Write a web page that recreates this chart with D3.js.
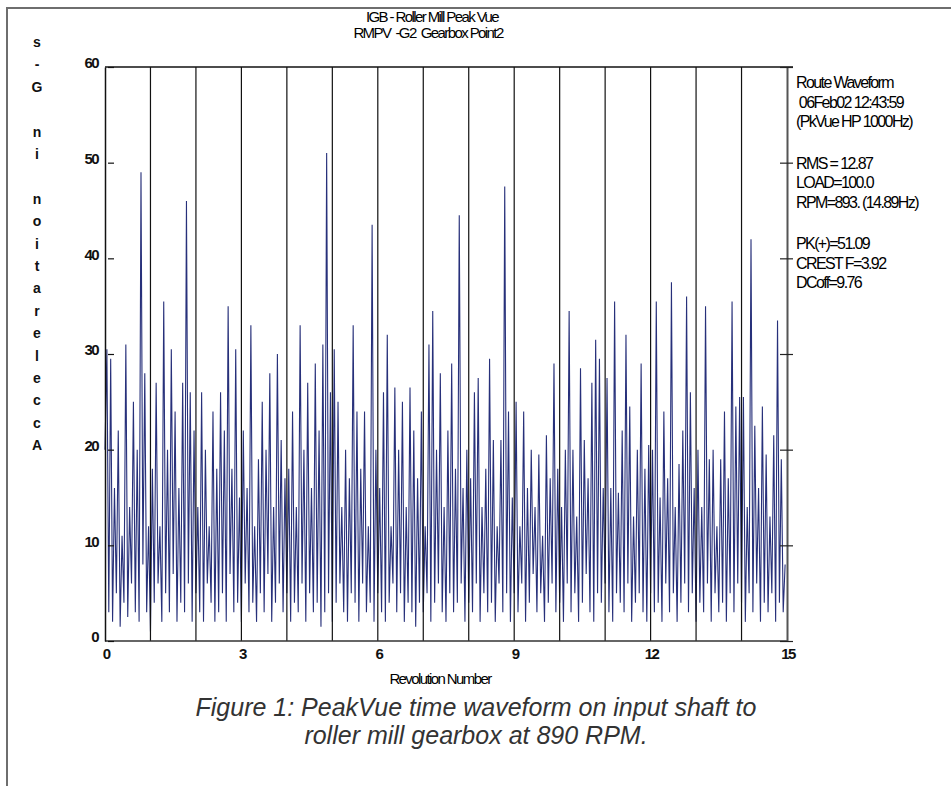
<!DOCTYPE html>
<html>
<head>
<meta charset="utf-8">
<script src="https://cdn.jsdelivr.net/npm/d3@7"></script>
<style>
  body { margin: 0; background: #fff; }
  text { font-family: 'Liberation Sans', Arial, sans-serif; }
</style>
</head>
<body>
<div id="app"></div>
<script>
// PeakVue waveform, 24 samples per revolution (one row per revolution)
const samplesPerRev = 24
const accelG = [
  20, 30.5, 3, 29.5, 2, 16, 5, 22, 1.5, 11, 4, 31, 2.5, 14, 6, 25, 3, 20, 2, 49, 8, 28, 3, 12,
  1, 18, 4, 27, 6, 12, 2, 35.5, 5, 20, 3, 30.5, 7, 24, 2, 16, 4, 27, 3, 46, 6, 26, 2, 22,
  5, 14, 3, 26, 2, 20, 6, 12, 4, 24, 2, 18, 3, 26, 5, 22, 2, 35, 7, 18, 3, 30.5, 4, 15,
  2, 22, 6, 16, 3, 33, 4, 12, 2, 19, 5, 25, 3, 20, 7, 28, 2, 14, 4, 30, 6, 21, 3, 17,
  5, 18, 2, 24, 4, 14, 3, 33, 6, 20, 2, 27, 5, 16, 3, 29, 4, 22, 1.5, 31, 3, 51, 5, 26,
  2, 30.5, 4, 25, 6, 14, 3, 20, 2, 17, 5, 33, 4, 24, 2, 18, 6, 24, 3, 12, 4, 43.5, 2, 20,
  5, 16, 3, 26, 2, 32, 4, 12, 6, 26.5, 3, 20, 5, 25, 2, 14, 4, 26.5, 3, 22, 1.5, 17, 4, 24,
  3, 12, 5, 31, 2, 34.5, 4, 20, 6, 28, 3, 14, 2, 22, 5, 29, 3, 18, 4, 44.5, 6, 16, 2, 20,
  4, 17, 3, 26, 6, 27.5, 2, 14, 5, 18, 3, 29.5, 4, 21, 2, 12, 6, 21, 3, 47.5, 5, 24, 2, 15,
  5, 25, 3, 12, 6, 24, 2, 16, 4, 20, 7, 14, 3, 19.5, 5, 11, 2, 21.5, 4, 17, 6, 29, 3, 18,
  4, 14, 2, 20, 6, 34.5, 3, 20, 5, 13, 2, 28.5, 4, 21, 7, 17, 3, 27, 2, 31.5, 5, 29.5, 4, 16,
  6, 27.5, 3, 16, 2, 35.5, 5, 15.5, 4, 22, 3, 32, 6, 24.5, 2, 13, 4, 20, 5, 29, 3, 18, 2, 20.5,
  5, 20, 3, 35.5, 4, 15, 2, 24, 6, 17, 3, 37.5, 5, 14, 2, 18.5, 4, 22, 6, 36, 3, 26, 5, 16,
  2, 20, 4, 14, 3, 35, 6, 19, 2, 20, 5, 12, 3, 19, 4, 24, 2, 17, 5, 35.5, 3, 24.5, 6, 25.5,
  4, 25.5, 2, 14, 5, 42, 3, 22.5, 6, 16, 2, 24.5, 4, 19.5, 3, 13, 5, 21.5, 2, 33.5, 4, 19, 3, 8
]

const revMarks = [1, 2, 3, 4, 5, 6, 7, 8, 9, 10, 11, 12, 13, 14]
const xTicks = [0, 3, 6, 9, 12, 15]
const yTicks = [0, 10, 20, 30, 40, 50, 60]

const titleLines = ['IGB - Roller Mill Peak Vue', 'RMPV  -G2  Gearbox Point2']
const yLabel = 'Acceleration in G-s'
const xLabel = 'Revolution Number'
const infoLines = [
  ['Route Waveform', 0], [' 06Feb02 12:43:59', 0], ['(PkVue HP 1000Hz)', 0],
  ['RMS = 12.87', 1], ['LOAD=100.0', 1], ['RPM=893. (14.89Hz)', 1],
  ['PK(+)=51.09', 2], ['CREST F=3.92', 2], ['DCoff=9.76', 2]
]
const caption = ['Figure 1: PeakVue time waveform on input shaft to', 'roller mill gearbox at 890 RPM.']

const width = 951
const height = 786
const m = { left: 105, right: 787, top: 67, bottom: 641 }

const svg = d3.select('#app')
  .append('svg')
  .attr('width', width)
  .attr('height', height)

// outer frame (top and left edges visible)
svg.append('path')
  .attr('d', `M7,786 V8 H951`)
  .attr('fill', 'none')
  .attr('stroke', '#6e6e6e')
  .attr('stroke-width', 2)

const x = d3.scaleLinear().domain([0, 15]).range([m.left, m.right])
const y = d3.scaleLinear().domain([0, 60]).range([m.bottom, m.top])

// waveform
const line = d3.line()
  .x((d, i) => x(i / samplesPerRev))
  .y(d => y(d))

svg.append('path')
  .datum(accelG)
  .attr('d', line)
  .attr('fill', 'none')
  .attr('stroke', '#27307a')
  .attr('stroke-width', 1.1)

// revolution marker lines
svg.append('g')
  .selectAll('line')
  .data(revMarks)
  .join('line')
  .attr('x1', d => x(d))
  .attr('x2', d => x(d))
  .attr('y1', m.top)
  .attr('y2', m.bottom)
  .attr('stroke', '#111')
  .attr('stroke-width', 1.2)

// frame of the plot
svg.append('line')
  .attr('x1', m.left).attr('x2', m.right + 6)
  .attr('y1', m.top).attr('y2', m.top)
  .attr('stroke', '#111').attr('stroke-width', 1.5)
svg.append('line')
  .attr('x1', m.left).attr('x2', m.right)
  .attr('y1', m.bottom).attr('y2', m.bottom)
  .attr('stroke', '#333').attr('stroke-width', 1.5)

const yLeft = d3.axisLeft(y).tickValues(yTicks).tickSizeInner(-9).tickSizeOuter(0).tickFormat('')
const yRight = d3.axisRight(y).tickValues(yTicks).tickSizeInner(-7).tickSizeOuter(0).tickFormat('')

svg.append('g')
  .attr('transform', `translate(${m.left},0)`)
  .call(yLeft)
  .call(g => g.select('.domain').attr('stroke', '#111').attr('stroke-width', 1.5))
  .call(g => g.selectAll('.tick line').attr('x1', 3).attr('stroke', '#111').attr('stroke-width', 1.2))

svg.append('g')
  .attr('transform', `translate(${m.right},0)`)
  .call(yRight)
  .call(g => g.select('.domain').attr('stroke', '#555').attr('stroke-width', 2))
  .call(g => g.selectAll('.tick line').attr('x1', 6).attr('stroke', '#222').attr('stroke-width', 1.2))

const tickFont = g => g
  .attr('font-size', 15)
  .attr('font-weight', 'bold')
  .attr('letter-spacing', -1.6)
  .attr('fill', '#111')

// y tick labels
svg.append('g')
  .call(tickFont)
  .selectAll('text')
  .data(yTicks)
  .join('text')
  .attr('x', 98)
  .attr('y', d => y(d) - 4)
  .attr('dy', '0.35em')
  .attr('text-anchor', 'end')
  .text(d => d)

// x tick labels
svg.append('g')
  .call(tickFont)
  .selectAll('text')
  .data(xTicks)
  .join('text')
  .attr('x', d => x(d) + 1)
  .attr('y', 659)
  .attr('text-anchor', 'middle')
  .text(d => d)

// titles
svg.append('g')
  .attr('font-size', 15)
  .attr('letter-spacing', -1.6)
  .attr('fill', '#000')
  .selectAll('text')
  .data(titleLines)
  .join('text')
  .attr('x', (d, i) => i ? 428 : 432)
  .attr('y', (d, i) => 22 + i * 16)
  .attr('text-anchor', 'middle')
  .attr('xml:space', 'preserve')
  .text(d => d)

// y label, one reversed character per row
svg.append('g')
  .attr('font-size', 14)
  .attr('font-weight', 'bold')
  .attr('fill', '#111')
  .selectAll('text')
  .data(yLabel.split('').reverse())
  .join('text')
  .attr('x', 37)
  .attr('y', (d, i) => 47 + i * 22.4)
  .attr('text-anchor', 'middle')
  .text(d => d)

svg.append('text')
  .attr('x', 440)
  .attr('y', 684)
  .attr('font-size', 15)
  .attr('letter-spacing', -1.6)
  .attr('text-anchor', 'middle')
  .attr('fill', '#000')
  .text(xLabel)

// info block on the right
svg.append('g')
  .attr('font-size', 16)
  .attr('letter-spacing', -1.6)
  .attr('fill', '#000')
  .selectAll('text')
  .data(infoLines)
  .join('text')
  .attr('x', 796)
  .attr('y', (d, i) => 88 + i * 19.5 + d[1] * 22)
  .attr('xml:space', 'preserve')
  .text(d => d[0])

// figure caption
svg.append('g')
  .attr('font-size', 25)
  .attr('font-style', 'italic')
  .attr('fill', '#333')
  .selectAll('text')
  .data(caption)
  .join('text')
  .attr('x', 476)
  .attr('y', (d, i) => 716 + i * 28)
  .attr('text-anchor', 'middle')
  .text(d => d)
</script>
</body>
</html>
